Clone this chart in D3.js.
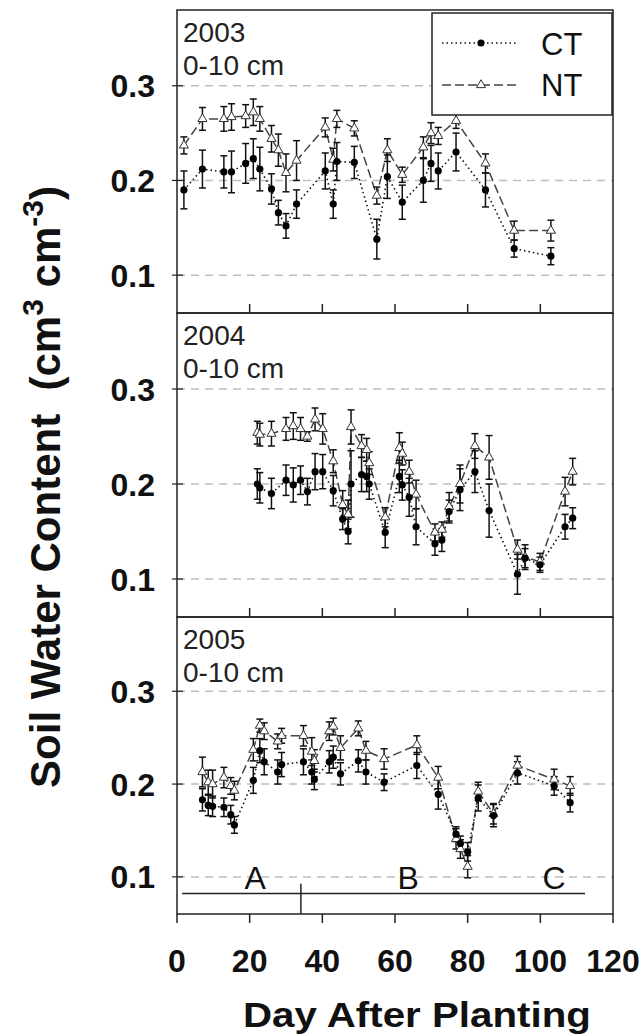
<!DOCTYPE html>
<html>
<head>
<meta charset="utf-8">
<script src="https://cdn.jsdelivr.net/npm/d3@7"></script>
<style>
  body { margin: 0; background: #fff; }
  svg { display: block; font-family: Arial, "Liberation Sans", sans-serif; }
</style>
</head>
<body>
<div id="chart"></div>
<script>
// ---- data ----
const years = ["2003", "2004", "2005"];
const depthLabel = "0-10 cm";
const yTicks = [0.1, 0.2, 0.3];
const xTicks = [0, 20, 40, 60, 80, 100, 120];

const days2003 = [1.9, 7.0, 12.9, 15.0, 18.9, 21.0, 22.8, 26.0, 27.9, 30.0, 32.9, 40.8, 43.0, 44.0, 48.8, 55.0, 57.9, 62.0, 67.8, 69.9, 71.9, 76.8, 84.9, 92.8, 102.9];
const ct2003 = [0.190, 0.212, 0.209, 0.209, 0.218, 0.223, 0.212, 0.191, 0.166, 0.152, 0.175, 0.210, 0.175, 0.220, 0.219, 0.138, 0.204, 0.177, 0.200, 0.218, 0.210, 0.230, 0.190, 0.128, 0.120];
const ctErr2003 = [0.020, 0.020, 0.017, 0.022, 0.021, 0.021, 0.023, 0.016, 0.013, 0.013, 0.015, 0.019, 0.015, 0.020, 0.017, 0.021, 0.023, 0.018, 0.023, 0.019, 0.019, 0.020, 0.018, 0.009, 0.009];
const nt2003 = [0.237, 0.265, 0.265, 0.267, 0.268, 0.272, 0.265, 0.244, 0.232, 0.208, 0.221, 0.256, 0.222, 0.265, 0.255, 0.184, 0.232, 0.206, 0.235, 0.250, 0.247, 0.263, 0.218, 0.147, 0.147];
const ntErr2003 = [0.009, 0.012, 0.013, 0.014, 0.012, 0.014, 0.013, 0.014, 0.017, 0.020, 0.021, 0.010, 0.012, 0.009, 0.008, 0.009, 0.012, 0.008, 0.011, 0.011, 0.009, 0.008, 0.010, 0.010, 0.011];

const days2004 = [22.1, 22.8, 26.0, 30.0, 32.0, 34.0, 35.9, 38.0, 40.1, 43.0, 45.6, 47.1, 47.9, 50.8, 52.2, 52.9, 57.3, 61.2, 62.0, 63.9, 65.8, 71.0, 72.9, 74.9, 77.9, 82.0, 85.9, 93.7, 95.8, 99.9, 106.8, 108.9];
const ct2004 = [0.200, 0.196, 0.190, 0.204, 0.199, 0.204, 0.192, 0.213, 0.213, 0.193, 0.163, 0.150, 0.200, 0.210, 0.208, 0.200, 0.149, 0.208, 0.199, 0.186, 0.155, 0.137, 0.141, 0.171, 0.194, 0.213, 0.172, 0.105, 0.122, 0.115, 0.155, 0.164];
const ctErr2004 = [0.016, 0.016, 0.016, 0.016, 0.018, 0.015, 0.014, 0.019, 0.018, 0.016, 0.011, 0.013, 0.035, 0.018, 0.016, 0.016, 0.016, 0.017, 0.016, 0.020, 0.019, 0.012, 0.012, 0.012, 0.022, 0.022, 0.028, 0.021, 0.010, 0.008, 0.013, 0.011];
const nt2004 = [0.254, 0.252, 0.253, 0.258, 0.261, 0.258, 0.250, 0.268, 0.258, 0.224, 0.178, 0.168, 0.260, 0.240, 0.236, 0.222, 0.165, 0.238, 0.232, 0.213, 0.189, 0.149, 0.152, 0.176, 0.200, 0.240, 0.228, 0.131, 0.123, 0.118, 0.192, 0.213];
const ntErr2004 = [0.012, 0.012, 0.013, 0.012, 0.014, 0.012, 0.005, 0.012, 0.016, 0.012, 0.015, 0.015, 0.018, 0.012, 0.012, 0.012, 0.010, 0.016, 0.012, 0.012, 0.015, 0.009, 0.008, 0.015, 0.020, 0.013, 0.023, 0.010, 0.013, 0.009, 0.015, 0.014];

const days2005 = [7.0, 8.6, 9.8, 12.9, 14.8, 15.8, 21.0, 22.8, 24.0, 27.7, 28.8, 34.8, 37.1, 37.8, 41.9, 43.0, 45.0, 49.9, 52.0, 57.0, 66.0, 71.9, 76.8, 78.0, 80.0, 82.9, 87.1, 93.7, 103.8, 108.2];
const ct2005 = [0.183, 0.177, 0.176, 0.175, 0.167, 0.156, 0.204, 0.236, 0.224, 0.213, 0.221, 0.224, 0.213, 0.205, 0.224, 0.229, 0.211, 0.225, 0.213, 0.202, 0.220, 0.189, 0.146, 0.136, 0.127, 0.185, 0.166, 0.212, 0.198, 0.180];
const ctErr2005 = [0.012, 0.011, 0.011, 0.010, 0.010, 0.009, 0.014, 0.013, 0.014, 0.013, 0.013, 0.014, 0.013, 0.011, 0.012, 0.012, 0.012, 0.012, 0.013, 0.009, 0.014, 0.016, 0.008, 0.008, 0.010, 0.014, 0.012, 0.012, 0.010, 0.010];
const nt2005 = [0.213, 0.202, 0.200, 0.207, 0.198, 0.193, 0.237, 0.263, 0.257, 0.246, 0.252, 0.252, 0.235, 0.225, 0.257, 0.262, 0.239, 0.260, 0.236, 0.227, 0.242, 0.207, 0.141, 0.130, 0.111, 0.192, 0.168, 0.220, 0.205, 0.198];
const ntErr2005 = [0.016, 0.013, 0.015, 0.011, 0.009, 0.010, 0.012, 0.007, 0.009, 0.008, 0.008, 0.011, 0.015, 0.012, 0.010, 0.009, 0.013, 0.008, 0.010, 0.011, 0.010, 0.012, 0.011, 0.010, 0.012, 0.010, 0.011, 0.010, 0.011, 0.010];

// growth phases shown under the 2005 panel
const phaseLabels = ["A", "B", "C"];
const phaseLabelDays = [21.5, 63.6, 103.8];
const phaseLineDays = [1.4, 112.3];
const phaseBreakDay = 34.1;

// ---- layout ----
const width = 642, height = 1036;
const left = 177, right = 613;
const panelTops = [10, 313, 617];
const panelBottoms = [313, 617, 914];

const panels = [
  { year: years[0], days: days2003, ct: ct2003, ctErr: ctErr2003, nt: nt2003, ntErr: ntErr2003 },
  { year: years[1], days: days2004, ct: ct2004, ctErr: ctErr2004, nt: nt2004, ntErr: ntErr2004 },
  { year: years[2], days: days2005, ct: ct2005, ctErr: ctErr2005, nt: nt2005, ntErr: ntErr2005 }
];

const svg = d3.select("#chart").append("svg")
  .attr("width", width)
  .attr("height", height);

svg.append("rect").attr("width", width).attr("height", height).attr("fill", "#fff");

const xScale = d3.scaleLinear().domain([0, 120]).range([left, right]);

const triangle = d3.symbol().type(d3.symbolTriangle).size(36);

panels.forEach((p, i) => {
  const yScale = d3.scaleLinear().domain([0.06, 0.38]).range([panelBottoms[i], panelTops[i]]);
  const g = svg.append("g");

  // dashed reference lines
  g.selectAll(".grid").data(yTicks).join("line")
    .attr("x1", left).attr("x2", right)
    .attr("y1", d => yScale(d)).attr("y2", d => yScale(d))
    .attr("stroke", "#bdbdbd").attr("stroke-width", 1.5)
    .attr("stroke-dasharray", "8,6");

  const ctData = p.days.map((d, k) => ({ x: d, y: p.ct[k], e: p.ctErr[k] }));
  const ntData = p.days.map((d, k) => ({ x: d, y: p.nt[k], e: p.ntErr[k] }));

  const line = d3.line().x(d => xScale(d.x)).y(d => yScale(d.y));

  g.append("path").datum(ntData).attr("d", line)
    .attr("fill", "none").attr("stroke", "#444").attr("stroke-width", 1.5)
    .attr("stroke-dasharray", "9,4");
  g.append("path").datum(ctData).attr("d", line)
    .attr("fill", "none").attr("stroke", "#111").attr("stroke-width", 1.6)
    .attr("stroke-dasharray", "1.5,3");

  // error bars
  [ntData, ctData].forEach(data => {
    const eb = g.append("g").attr("stroke", "#111").attr("stroke-width", 1.5);
    data.forEach(d => {
      const cx = xScale(d.x), y0 = yScale(d.y - d.e), y1 = yScale(d.y + d.e);
      eb.append("line").attr("x1", cx).attr("x2", cx).attr("y1", y0).attr("y2", y1);
      eb.append("line").attr("x1", cx - 3.5).attr("x2", cx + 3.5).attr("y1", y0).attr("y2", y0);
      eb.append("line").attr("x1", cx - 3.5).attr("x2", cx + 3.5).attr("y1", y1).attr("y2", y1);
    });
  });

  // markers
  g.selectAll(".nt").data(ntData).join("path")
    .attr("d", triangle)
    .attr("transform", d => `translate(${xScale(d.x)},${yScale(d.y)})`)
    .attr("fill", "#fff").attr("stroke", "#333").attr("stroke-width", 1);
  g.selectAll(".ct").data(ctData).join("circle")
    .attr("cx", d => xScale(d.x)).attr("cy", d => yScale(d.y))
    .attr("r", 3.6).attr("fill", "#000");

  // frame
  g.append("rect")
    .attr("x", left).attr("y", panelTops[i])
    .attr("width", right - left).attr("height", panelBottoms[i] - panelTops[i])
    .attr("fill", "none").attr("stroke", "#222").attr("stroke-width", 1.5);

  // x ticks: inward for upper panels, outward on the bottom one
  const last = i === panels.length - 1;
  const tickData = last ? xTicks : xTicks.slice(1, -1);
  g.selectAll(".xt").data(tickData).join("line")
    .attr("x1", d => xScale(d)).attr("x2", d => xScale(d))
    .attr("y1", panelBottoms[i]).attr("y2", panelBottoms[i] + (last ? 9 : -9))
    .attr("stroke", "#222").attr("stroke-width", 1.5);

  // y ticks and labels
  g.selectAll(".yt").data(yTicks).join("line")
    .attr("x1", left - 5).attr("x2", left + 6)
    .attr("y1", d => yScale(d)).attr("y2", d => yScale(d))
    .attr("stroke", "#222").attr("stroke-width", 1.2);
  g.selectAll(".yl").data(yTicks).join("text")
    .attr("x", 155).attr("y", d => yScale(d))
    .attr("dy", "0.36em")
    .attr("text-anchor", "end")
    .attr("font-size", 32).attr("font-weight", "bold").attr("fill", "#111")
    .text(d => d3.format(".1f")(d));

  // year / depth labels
  g.append("text").attr("x", 183).attr("y", panelTops[i] + 32)
    .attr("font-size", 28).attr("fill", "#222").text(p.year);
  g.append("text").attr("x", 183).attr("y", panelTops[i] + 65)
    .attr("font-size", 28).attr("fill", "#222").text(depthLabel);

  // growth phase annotation on the last panel
  if (last) {
    g.append("line")
      .attr("x1", xScale(phaseLineDays[0])).attr("x2", xScale(phaseLineDays[1]))
      .attr("y1", yScale(0.082)).attr("y2", yScale(0.082))
      .attr("stroke", "#222").attr("stroke-width", 1.5);
    g.append("line")
      .attr("x1", xScale(phaseBreakDay)).attr("x2", xScale(phaseBreakDay))
      .attr("y1", yScale(0.0925)).attr("y2", panelBottoms[i])
      .attr("stroke", "#222").attr("stroke-width", 1.5);
    g.selectAll(".ph").data(phaseLabels).join("text")
      .attr("x", (d, k) => xScale(phaseLabelDays[k]))
      .attr("y", yScale(0.087))
      .attr("text-anchor", "middle")
      .attr("font-size", 32).attr("fill", "#111")
      .text(d => d);
  }

  // legend in first panel
  if (i === 0) {
    const lg = svg.append("g");
    lg.append("rect").attr("x", 432).attr("y", 13).attr("width", 180).attr("height", 102)
      .attr("fill", "#fff").attr("stroke", "#222").attr("stroke-width", 1.5);
    lg.append("line").attr("x1", 442).attr("x2", 518).attr("y1", 43).attr("y2", 43)
      .attr("stroke", "#111").attr("stroke-width", 1.6).attr("stroke-dasharray", "1.5,3");
    lg.append("circle").attr("cx", 481).attr("cy", 43).attr("r", 3.6).attr("fill", "#000");
    lg.append("line").attr("x1", 442).attr("x2", 518).attr("y1", 85).attr("y2", 85)
      .attr("stroke", "#444").attr("stroke-width", 1.5).attr("stroke-dasharray", "9,4");
    lg.append("path").attr("d", triangle).attr("transform", "translate(481,85)")
      .attr("fill", "#fff").attr("stroke", "#333").attr("stroke-width", 1);
    lg.append("text").attr("x", 541).attr("y", 55).attr("font-size", 31).attr("fill", "#111").text("CT");
    lg.append("text").attr("x", 541).attr("y", 96).attr("font-size", 31).attr("fill", "#111").text("NT");
  }
});

// bottom axis labels
svg.selectAll(".xl").data(xTicks).join("text")
  .attr("x", d => xScale(d)).attr("y", 960)
  .attr("dy", "0.36em")
  .attr("text-anchor", "middle")
  .attr("font-size", 32).attr("font-weight", "bold").attr("fill", "#111")
  .text(d => d);

// x title, slightly widened like the original
svg.append("text")
  .attr("transform", "translate(417,1027) scale(1.12,1)")
  .attr("text-anchor", "middle")
  .attr("font-size", 36).attr("font-weight", "bold").attr("fill", "#111")
  .text("Day After Planting");

const yTitle = svg.append("text")
  .attr("transform", "translate(60,487) rotate(-90)")
  .attr("text-anchor", "middle")
  .attr("font-size", 42).attr("font-weight", "bold").attr("fill", "#111")
  .style("white-space", "pre");
yTitle.append("tspan").text("Soil Water Content  (cm");
yTitle.append("tspan").attr("dy", -17).attr("font-size", 30).text("3");
yTitle.append("tspan").attr("dy", 17).text(" cm");
yTitle.append("tspan").attr("dy", -17).attr("font-size", 30).text("-3");
yTitle.append("tspan").attr("dy", 17).text(")");
</script>
</body>
</html>
